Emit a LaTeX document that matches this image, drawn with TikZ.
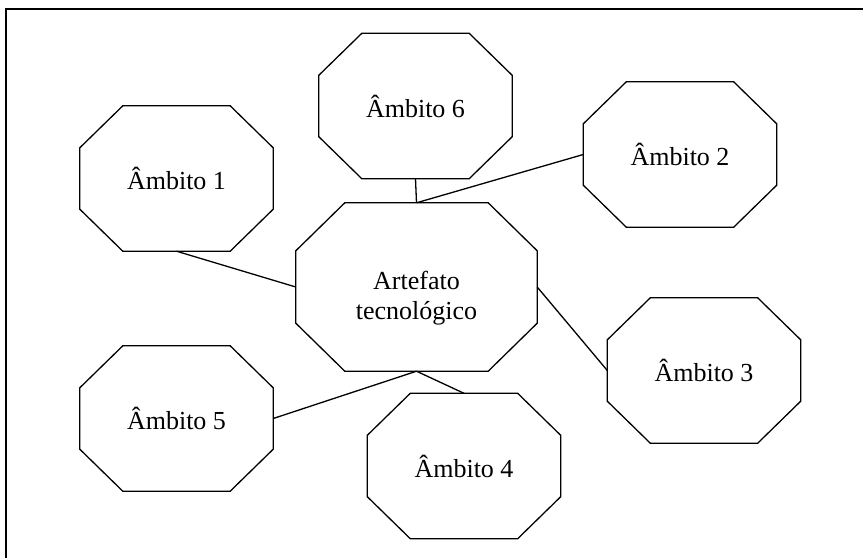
\documentclass[tikz,border=0pt]{standalone}
\usepackage{fontspec}
\setmainfont{Liberation Serif}
\begin{document}
\begin{tikzpicture}[x=1pt,y=-1pt,
  box/.style={rectangle, inner sep=0pt, minimum width=193pt, minimum height=145pt,
    font=\fontsize{26}{30}\selectfont, align=center},
  hub/.style={box, minimum width=241pt, minimum height=168pt},
  octline/.style={draw=black, line width=1.3pt, line join=miter},
  link/.style={draw=black, line width=1.3pt},
  frameline/.style={draw=black, line width=1.8pt}]
\useasboundingbox (0,0) rectangle (863,558);

% outer frame (only top and left edges fall inside the page)
\draw[frameline] (863,9) -- (6,9) -- (6,558);

% nodes
\node[hub] (c)  at (416.5,287)   {\rule{0pt}{40pt}Artefato\\tecnológico};
\node[box] (a1) at (176.5,178.5) {Âmbito 1};
\node[box] (a2) at (680,154.5)   {Âmbito 2};
\node[box] (a3) at (704,370.5)   {Âmbito 3};
\node[box] (a4) at (464,466)     {Âmbito 4};
\node[box] (a5) at (176.5,418.5) {Âmbito 5};
\node[box] (a6) at (415.5,106)   {Âmbito 6};

% octagonal outlines: node name, horizontal cut, vertical cut
\newcommand{\drawoctagon}[3]{%
  \draw[octline] ([xshift=#2]#1.north west) -- ([xshift=-#2]#1.north east)
    -- ([yshift=-#3]#1.north east) -- ([yshift=#3]#1.south east)
    -- ([xshift=-#2]#1.south east) -- ([xshift=#2]#1.south west)
    -- ([yshift=#3]#1.south west) -- ([yshift=-#3]#1.north west) -- cycle;}
\drawoctagon{c}{49pt}{48pt}
\foreach \n in {a1,a2,a3,a4,a5,a6} {\drawoctagon{\n}{43pt}{42pt}}

% connectors
\draw[link] (a1.south) -- (c.west);
\draw[link] (a6.south) -- (c.north);
\draw[link] (c.north) -- (a2.west);
\draw[link] (c.east) -- (a3.west);
\draw[link] (c.south) -- (a5.east);
\draw[link] (c.south) -- (a4.north);
\end{tikzpicture}
\end{document}
